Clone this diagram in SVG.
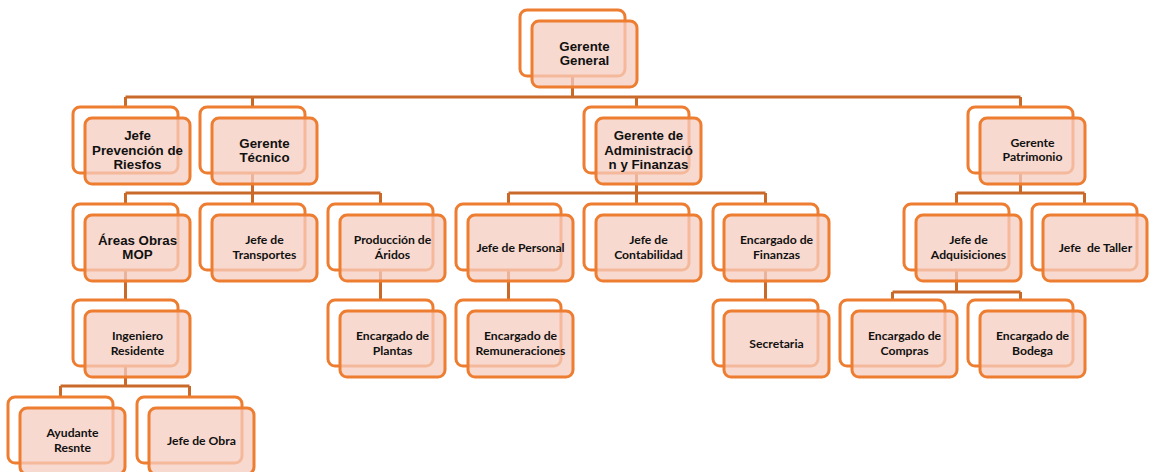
<svg xmlns="http://www.w3.org/2000/svg" width="1149" height="472" viewBox="0 0 1149 472">
<style>
.bk{fill:#ffffff;stroke:#ED7D31;stroke-width:3}
.fr{fill:#F5CCBF;fill-opacity:0.75;stroke:#ED7D31;stroke-width:3}
.cn{fill:none;stroke:#C96A2B;stroke-width:3}
.a{font-family:"Liberation Sans",Arial,sans-serif;font-weight:bold;font-size:13.3px;fill:#111;text-anchor:middle}
.c{font-family:Lato,"Open Sans",sans-serif;font-weight:bold;font-size:12.2px;fill:#111;text-anchor:middle;white-space:pre}
</style>
<rect width="1149" height="472" fill="#ffffff"/>
<g id="connectors">
<path class="cn" d="M572.5,76V97M125.5,97H1020.5M125.5,97V107M252.5,97V107M636.5,97V107M1020.5,97V107"/>
<path class="cn" d="M252.5,173V193M125.5,193H380.5M125.5,193V204M252.5,193V204M380.5,193V204"/>
<path class="cn" d="M636.5,173V193M508.5,193H765.5M508.5,193V204M636.5,193V204M765.5,193V204"/>
<path class="cn" d="M1020.5,173V193M956.5,193H1084.5M956.5,193V204M1084.5,193V204"/>
<path class="cn" d="M125.5,270V300M380.5,270V300M508.5,270V300M765.5,270V300"/>
<path class="cn" d="M956.5,270V292M892.5,292H1020.5M892.5,292V300M1020.5,292V300"/>
<path class="cn" d="M125.5,366V386M60.5,386H189.5M60.5,386V397M189.5,386V397"/>
</g>
<g id="gerente-general"><rect class="bk" x="520" y="10" width="105" height="66" rx="7"/><rect class="fr" x="532" y="21" width="105" height="66" rx="7"/><text class="a" x="584.5" y="51">Gerente</text><text class="a" x="584.5" y="65">General</text></g>
<g id="jefe-prevencion"><rect class="bk" x="73" y="107" width="105" height="66" rx="7"/><rect class="fr" x="85" y="118" width="105" height="66" rx="7"/><text class="a" x="137.5" y="140">Jefe</text><text class="a" x="137.5" y="155">Prevención de</text><text class="a" x="137.5" y="169">Riesfos</text></g>
<g id="gerente-tecnico"><rect class="bk" x="200" y="107" width="105" height="66" rx="7"/><rect class="fr" x="212" y="118" width="105" height="66" rx="7"/><text class="a" x="264.5" y="148">Gerente</text><text class="a" x="264.5" y="162">Técnico</text></g>
<g id="gerente-administracion"><rect class="bk" x="584" y="107" width="105" height="66" rx="7"/><rect class="fr" x="596" y="118" width="105" height="66" rx="7"/><text class="a" x="648.5" y="140">Gerente de</text><text class="a" x="648.5" y="155">Administració</text><text class="a" x="648.5" y="169">n y Finanzas</text></g>
<g id="gerente-patrimonio"><rect class="bk" x="968" y="107" width="105" height="66" rx="7"/><rect class="fr" x="980" y="118" width="105" height="66" rx="7"/><text class="c" x="1032.5" y="147">Gerente</text><text class="c" x="1032.5" y="161">Patrimonio</text></g>
<g id="areas-obras"><rect class="bk" x="73" y="204" width="105" height="66" rx="7"/><rect class="fr" x="85" y="215" width="105" height="66" rx="7"/><text class="a" x="137.5" y="245">Áreas Obras</text><text class="a" x="137.5" y="259">MOP</text></g>
<g id="jefe-transportes"><rect class="bk" x="200" y="204" width="105" height="66" rx="7"/><rect class="fr" x="212" y="215" width="105" height="66" rx="7"/><text class="c" x="264.5" y="244">Jefe de</text><text class="c" x="264.5" y="259">Transportes</text></g>
<g id="produccion-aridos"><rect class="bk" x="328" y="204" width="105" height="66" rx="7"/><rect class="fr" x="340" y="215" width="105" height="66" rx="7"/><text class="c" x="392.5" y="244">Producción de</text><text class="c" x="392.5" y="259">Áridos</text></g>
<g id="jefe-personal"><rect class="bk" x="456" y="204" width="105" height="66" rx="7"/><rect class="fr" x="468" y="215" width="105" height="66" rx="7"/><text class="c" x="520.5" y="252">Jefe de Personal</text></g>
<g id="jefe-contabilidad"><rect class="bk" x="584" y="204" width="105" height="66" rx="7"/><rect class="fr" x="596" y="215" width="105" height="66" rx="7"/><text class="c" x="648.5" y="244">Jefe de</text><text class="c" x="648.5" y="259">Contabilidad</text></g>
<g id="encargado-finanzas"><rect class="bk" x="713" y="204" width="105" height="66" rx="7"/><rect class="fr" x="724" y="215" width="105" height="66" rx="7"/><text class="c" x="776.5" y="244">Encargado de</text><text class="c" x="776.5" y="259">Finanzas</text></g>
<g id="jefe-adquisiciones"><rect class="bk" x="904" y="204" width="105" height="66" rx="7"/><rect class="fr" x="916" y="215" width="105" height="66" rx="7"/><text class="c" x="968.5" y="244">Jefe de</text><text class="c" x="968.5" y="259">Adquisiciones</text></g>
<g id="jefe-taller"><rect class="bk" x="1032" y="204" width="105" height="66" rx="7"/><rect class="fr" x="1043" y="215" width="104" height="66" rx="7"/><text class="c" x="1095.5" y="252">Jefe  de Taller</text></g>
<g id="ingeniero-residente"><rect class="bk" x="73" y="300" width="105" height="66" rx="7"/><rect class="fr" x="85" y="311" width="105" height="66" rx="7"/><text class="c" x="137.5" y="340">Ingeniero</text><text class="c" x="137.5" y="355">Residente</text></g>
<g id="encargado-plantas"><rect class="bk" x="328" y="300" width="105" height="66" rx="7"/><rect class="fr" x="340" y="311" width="105" height="66" rx="7"/><text class="c" x="392.5" y="340">Encargado de</text><text class="c" x="392.5" y="355">Plantas</text></g>
<g id="encargado-remuneraciones"><rect class="bk" x="456" y="300" width="105" height="66" rx="7"/><rect class="fr" x="468" y="311" width="105" height="66" rx="7"/><text class="c" x="520.5" y="340">Encargado de</text><text class="c" x="520.5" y="355">Remuneraciones</text></g>
<g id="secretaria"><rect class="bk" x="713" y="300" width="105" height="66" rx="7"/><rect class="fr" x="724" y="311" width="105" height="66" rx="7"/><text class="c" x="776.5" y="348">Secretaria</text></g>
<g id="encargado-compras"><rect class="bk" x="840" y="300" width="105" height="66" rx="7"/><rect class="fr" x="852" y="311" width="105" height="66" rx="7"/><text class="c" x="904.5" y="340">Encargado de</text><text class="c" x="904.5" y="355">Compras</text></g>
<g id="encargado-bodega"><rect class="bk" x="968" y="300" width="105" height="66" rx="7"/><rect class="fr" x="980" y="311" width="105" height="66" rx="7"/><text class="c" x="1032.5" y="340">Encargado de</text><text class="c" x="1032.5" y="355">Bodega</text></g>
<g id="ayudante-resnte"><rect class="bk" x="8" y="397" width="105" height="66" rx="7"/><rect class="fr" x="20" y="408" width="105" height="66" rx="7"/><text class="c" x="72.5" y="437">Ayudante</text><text class="c" x="72.5" y="452">Resnte</text></g>
<g id="jefe-obra"><rect class="bk" x="137" y="397" width="105" height="66" rx="7"/><rect class="fr" x="149" y="408" width="105" height="66" rx="7"/><text class="c" x="201.5" y="445">Jefe de Obra</text></g>
</svg>
